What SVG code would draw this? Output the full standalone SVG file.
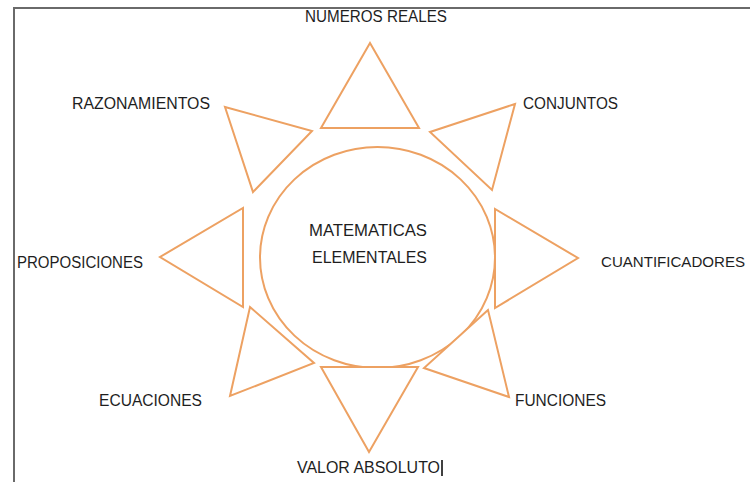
<svg xmlns="http://www.w3.org/2000/svg" width="750" height="482" viewBox="0 0 750 482">
<style>
.sh{fill:#fff;stroke:#EDA162;stroke-width:2;stroke-linejoin:miter}
.t{font-family:"Liberation Sans",Arial,sans-serif;font-size:16px;fill:#1e1e1e}
.frame{fill:none;stroke:#6a6a6a;stroke-width:2}
</style>
<rect x="0" y="0" width="750" height="482" fill="#fff"/>
<path class="frame" d="M14,482 V8 H752"/>
<g id="center">
<ellipse class="sh" cx="377.5" cy="257.5" rx="117.5" ry="110.5"/>
<text class="t" x="309" y="236" textLength="118" lengthAdjust="spacingAndGlyphs">MATEMATICAS</text>
<text class="t" x="312" y="263" textLength="115" lengthAdjust="spacingAndGlyphs">ELEMENTALES</text>
</g>
<g id="numeros-reales">
<polygon class="sh" points="370,43 321,128 419,128"/>
<text class="t" x="305" y="22" textLength="142" lengthAdjust="spacingAndGlyphs">NUMEROS REALES</text>
</g>
<g id="conjuntos">
<polygon class="sh" points="515,104 430,132 492,190"/>
<text class="t" x="523" y="109" textLength="95" lengthAdjust="spacingAndGlyphs">CONJUNTOS</text>
</g>
<g id="cuantificadores">
<polygon class="sh" points="495,209 495,308 578,258"/>
<text class="t" x="601" y="267" style="font-size:15px" textLength="144" lengthAdjust="spacingAndGlyphs">CUANTIFICADORES</text>
</g>
<g id="funciones">
<polygon class="sh" points="488,310 424,368 509,397"/>
<text class="t" x="515" y="406" textLength="91" lengthAdjust="spacingAndGlyphs">FUNCIONES</text>
</g>
<g id="valor-absoluto">
<polygon class="sh" points="321,367 418,367 369,452"/>
<text class="t" x="297" y="473" textLength="143" lengthAdjust="spacingAndGlyphs">VALOR ABSOLUTO</text>
<line x1="442" y1="460" x2="442" y2="476" stroke="#000" stroke-width="1.5"/>
</g>
<g id="ecuaciones">
<polygon class="sh" points="250,307 314,363 230,396"/>
<text class="t" x="99" y="406" textLength="103" lengthAdjust="spacingAndGlyphs">ECUACIONES</text>
</g>
<g id="proposiciones">
<polygon class="sh" points="243,208 243,307 160,257"/>
<text class="t" x="17" y="268" textLength="126" lengthAdjust="spacingAndGlyphs">PROPOSICIONES</text>
</g>
<g id="razonamientos">
<polygon class="sh" points="225,107 312,131 253,192"/>
<text class="t" x="72" y="109" textLength="138" lengthAdjust="spacingAndGlyphs">RAZONAMIENTOS</text>
</g>
</svg>
